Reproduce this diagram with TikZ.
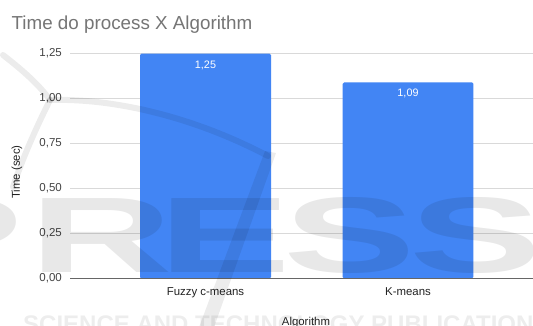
\documentclass[tikz,border=0pt]{standalone}
\usepackage{fontspec}
\setmainfont{Liberation Sans}
\usetikzlibrary{calc}

\definecolor{barblue}{HTML}{4285F4}
\definecolor{titlegray}{HTML}{757575}
\definecolor{ticktext}{HTML}{444444}
\definecolor{labeltext}{HTML}{222222}
\definecolor{gridgray}{HTML}{D9D9D9}
\definecolor{axisgray}{HTML}{666666}

\begin{document}
\begin{tikzpicture}[x=1pt,y=-1pt,
  ticklabel/.style={anchor=east,text=ticktext,inner sep=0pt,
    font=\fontsize{11.5}{13}\selectfont},
  catlabel/.style={anchor=base,text=labeltext,inner sep=0pt,
    font=\fontsize{11.4}{13}\selectfont},
  valuelabel/.style={text=white,inner sep=0pt,
    font=\fontsize{10.8}{12}\selectfont},
  barbox/.style={fill=barblue,inner sep=0pt,outer sep=0pt,
    rounded corners=1.5pt,anchor=south west},
  gridline/.style={draw=gridgray,line width=0.9pt},
  wmline/.style={draw=black,draw opacity=0.075,line width=6pt,line cap=round},
  wmfill/.style={fill=black,fill opacity=0.075},
  wmtext/.style={text=black,text opacity=0.09,inner sep=0pt}]

\useasboundingbox (0,0) rectangle (533,325);
\fill[white] (0,0) rectangle (533,325);

% chart title
\node[anchor=base west,text=titlegray,inner sep=0pt,
  font=\fontsize{18.8}{20}\selectfont] (title) at (11.5,29) {Time do process X Algorithm};

% horizontal grid lines and value-axis labels (0.25 = 45pt)
\foreach \i/\lab in {1/{0,25},2/{0,50},3/{0,75},4/{1,00},5/{1,25}}{
  \coordinate (g\i) at (70,{278.5-45*\i});
  \coordinate (gr\i) at (533,{278.5-45*\i});
  \draw[gridline] (g\i) -- (gr\i);
  \node[ticklabel] (t\i) at (62,{278.5-45*\i}) {\lab};
}
\node[ticklabel] (t0) at (62,278.5) {0,00};

% bars
\node[barbox,minimum width=131pt,minimum height=225pt] (barF) at (140,278.5) {};
\node[barbox,minimum width=130.6pt,minimum height=196.2pt] (barK) at (342.7,278.5) {};

% value labels inside the bars
\node[valuelabel] (vF) at ($(barF.north)+(0,11.5)$) {1,25};
\node[valuelabel] (vK) at ($(barK.north)+(0,11.5)$) {1,09};

% base axis line
\coordinate (axL) at (70,278.5);
\coordinate (axR) at (533,278.5);
\draw[axisgray,line width=1.3pt] (axL) -- (axR);

% category labels and axis titles
\node[catlabel] (cF) at (205.5,295) {Fuzzy c-means};
\node[catlabel] (cK) at (408,295) {K-means};
\node[catlabel] (xtitle) at (306,325) {Algorithm};
\node[catlabel,anchor=center,rotate=90] (ytitle) at (17,172) {Time (sec)};

% faint publisher watermark laid over the chart
\begin{scope}
  \clip (0,0) rectangle (533,325);
  \draw[wmline] (3,55) .. controls (25,72) and (40,86) .. (50,100);
  \draw[wmline] (50,100) .. controls (35,130) and (22,160) .. (13,187);
  \draw[wmline] (50,100) .. controls (120,98) and (200,120) .. (268,156);
  \fill[wmfill] (265,151) -- (276,153) -- (213,330) -- (198,330) -- cycle;
  \foreach \ch/\cx in {P/-43,R/101,E/225,S/350,S/476}{
    \node[wmtext,anchor=base,xscale=1.85,
      font=\fontsize{107.5}{110}\selectfont\bfseries] at (\cx,272) {\ch};
  }
  \node[wmtext,text opacity=0.07,anchor=base west,
    font=\fontsize{24}{26}\selectfont\bfseries] (wmsub) at (23,332)
    {SCIENCE AND TECHNOLOGY PUBLICATIONS};
\end{scope}
\end{tikzpicture}
\end{document}
